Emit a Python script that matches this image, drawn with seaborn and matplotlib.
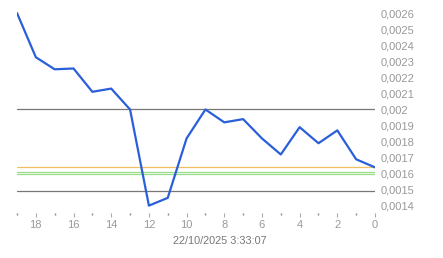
import matplotlib
matplotlib.use("Agg")
import matplotlib.pyplot as plt
import seaborn as sns
import pandas as pd
from matplotlib.ticker import FixedLocator, FuncFormatter

sns.set_style("white")
plt.rcParams['font.family'] = ['Liberation Sans', 'DejaVu Sans']

x_vals = [19, 18, 17, 16, 15, 14, 13, 12, 11, 10, 9, 8, 7, 6, 5, 4, 3, 2, 1, 0]
prices = [0.00260, 0.002325, 0.00225, 0.002255, 0.00211, 0.00213, 0.00200,
          0.001402, 0.00145, 0.00182, 0.00200, 0.00192, 0.00194, 0.00182,
          0.00172, 0.00189, 0.00179, 0.00187, 0.00169, 0.00164]
gray_levels = [0.00200, 0.00149]
orange_levels = [0.00164]
green_levels = [0.00161, 0.00160]
y_ticks = [0.0014, 0.0015, 0.0016, 0.0017, 0.0018, 0.0019, 0.0020,
           0.0021, 0.0022, 0.0023, 0.0024, 0.0025, 0.0026]
x_major = [18, 16, 14, 12, 10, 8, 6, 4, 2, 0]
x_title = "22/10/2025 3:33:07"

df = pd.DataFrame({"x": x_vals, "price": prices})

fig = plt.figure(figsize=(4.43, 2.58), dpi=100)
ax = fig.add_axes([17/443, (258-213)/258, (375-17)/443, 208/258])

for v in gray_levels:
    ax.axhline(v, color="#777777", lw=0.9, zorder=1)
for v in orange_levels:
    ax.axhline(v, color="#f0c060", lw=0.9, zorder=1)
for v in green_levels:
    ax.axhline(v, color="#99dd88", lw=0.9, zorder=1)

sns.lineplot(data=df, x="x", y="price", ax=ax, color="#2b5fd9", lw=1.6, zorder=3)

ax.set_xlim(19, 0)
ax.set_ylim(0.001356, 0.00265)
for s in ax.spines.values():
    s.set_visible(False)

ax.yaxis.tick_right()
ax.set_yticks(y_ticks)
def fmt(v, pos):
    s = ("%.4f" % v).rstrip("0")
    return s.replace(".", ",")
ax.yaxis.set_major_formatter(FuncFormatter(fmt))
ax.tick_params(axis="y", length=0, pad=4, labelsize=8, labelcolor="#999999")

ax.xaxis.set_major_locator(FixedLocator(x_major))
ax.xaxis.set_minor_locator(FixedLocator(list(range(0, 20))))
ax.tick_params(axis="x", which="major", length=3, width=0.8, color="#aaaaaa",
               labelsize=8, labelcolor="#999999", pad=2, bottom=True)
ax.tick_params(axis="x", which="minor", length=1.2, width=1, color="#888888", bottom=True)
ax.set_xlabel(x_title, fontsize=7.8, color="#777777")
ax.xaxis.set_label_coords((220 - 17) / 358, -0.11)
ax.set_ylabel("")

fig.savefig("out.png", dpi=100, facecolor="white")
